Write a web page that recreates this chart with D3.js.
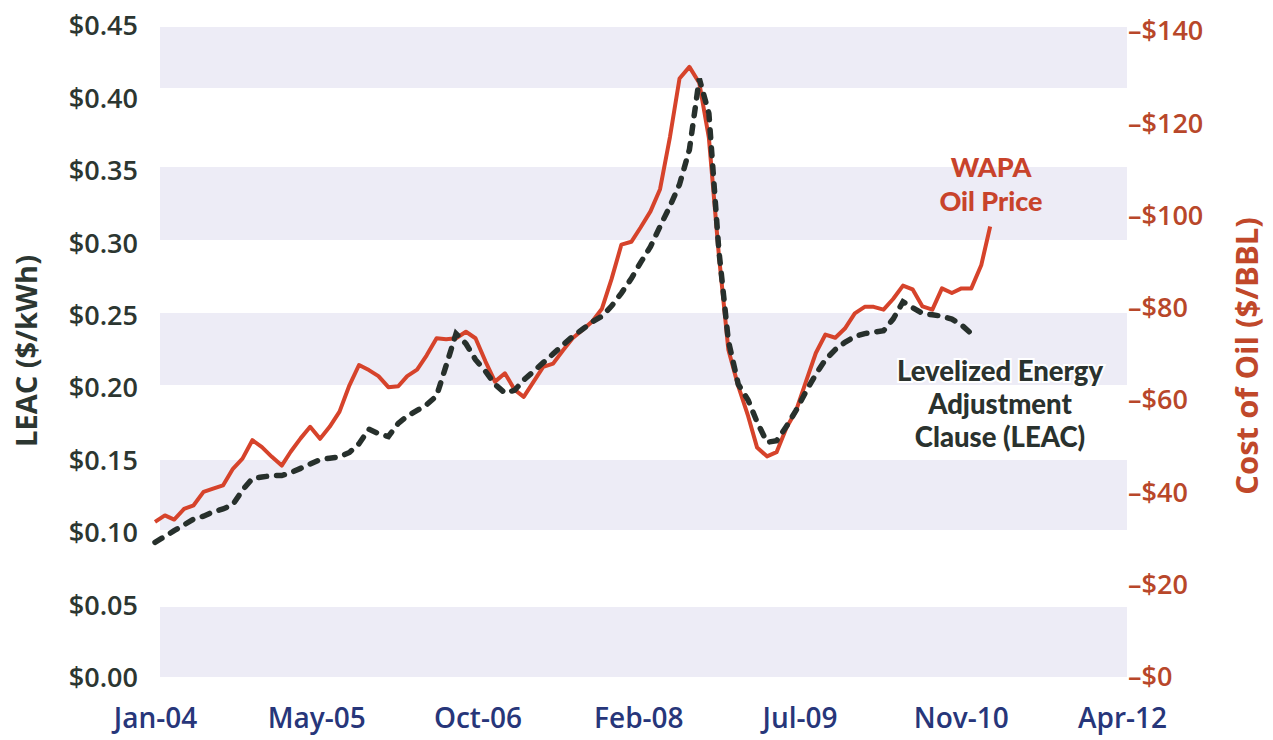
<!doctype html>
<html lang="en">
<head>
	<meta charset="utf-8">
	<title>LEAC vs WAPA Oil Price</title>
	<script src="https://cdn.jsdelivr.net/npm/d3@7"></script>
	<style>
		body { margin: 0; background: #fff; }
		text { font-family: 'Open Sans', sans-serif; }
		.axis path { display: none; }
		.note { font-family: Lato, 'Open Sans', sans-serif; }
	</style>
</head>
<body>
	<div id="chart"></div>
	<script>
		// monthly series, first month Jan-04
		let firstMonth = '2004-01-01'

		// WAPA oil price, $/BBL
		let oilPrice = [
			33.4, 34.8, 33.9, 36.2, 37.0, 39.9, 40.6, 41.3, 44.9, 47.1,
			51.1, 49.6, 47.5, 45.6, 48.6, 51.5, 54.0, 51.4, 54.0, 57.3,
			63.0, 67.4, 66.3, 65.0, 62.6, 62.8, 65.0, 66.4, 69.5, 73.2,
			73.0, 73.2, 74.6, 73.2, 68.2, 63.8, 65.6, 62.0, 60.5, 63.8,
			67.0, 67.7, 70.5, 73.2, 75.0, 76.8, 79.6, 86.0, 93.5, 94.1,
			97.2, 100.7, 105.5, 116.8, 129.5, 132.0, 128.5, 116.6, 91.4, 70.7,
			62.8, 56.3, 49.5, 47.6, 48.5, 53.8, 57.5, 63.8, 70.0, 74.0,
			73.3, 75.3, 78.6, 80.0, 80.0, 79.4, 81.7, 84.6, 83.8, 80.1,
			79.4, 84.0, 83.0, 84.0, 84.0, 89.0, 97.4
		]

		// LEAC, $/kWh
		let leac = [
			0.093, 0.097, 0.101, 0.105, 0.109, 0.111, 0.114, 0.116, 0.119, 0.129,
			0.137, 0.138, 0.139, 0.139, 0.141, 0.144, 0.147, 0.150, 0.151, 0.152,
			0.155, 0.161, 0.171, 0.168, 0.166, 0.175, 0.180, 0.184, 0.188, 0.194,
			0.215, 0.237, 0.230, 0.219, 0.211, 0.202, 0.196, 0.198, 0.205, 0.211,
			0.217, 0.223, 0.229, 0.235, 0.240, 0.245, 0.249, 0.256, 0.265, 0.275,
			0.286, 0.297, 0.311, 0.325, 0.340, 0.364, 0.413, 0.389, 0.295, 0.232,
			0.202, 0.191, 0.176, 0.162, 0.163, 0.173, 0.184, 0.197, 0.209, 0.219,
			0.226, 0.231, 0.235, 0.237, 0.238, 0.239, 0.247, 0.259, 0.255, 0.251,
			0.250, 0.249, 0.247, 0.243, 0.237
		]

		let xTickDates = ['2004-01-01', '2005-05-20', '2006-10-07', '2008-02-23', '2009-07-12', '2010-11-29', '2012-04-17']
		let xTickLabels = ['Jan-04', 'May-05', 'Oct-06', 'Feb-08', 'Jul-09', 'Nov-10', 'Apr-12']
		let leacTicks = [0, 0.05, 0.10, 0.15, 0.20, 0.25, 0.30, 0.35, 0.40, 0.45]
		let oilTicks = [0, 20, 40, 60, 80, 100, 120, 140]

		let width = 1273
		let height = 740
		let parse = d3.timeParse('%Y-%m-%d')
		let start = parse(firstMonth)

		let x = d3.scaleTime()
			.domain([parse(xTickDates[0]), parse(xTickDates[xTickDates.length - 1])])
			.range([155, 1122])
		let yLeft = d3.scaleLinear().domain([0, 0.45]).range([677, 25])
		let yRight = d3.scaleLinear().domain([0, 140]).range([676, 30])

		let svg = d3.select('#chart')
			.append('svg')
			.attr('width', width)
			.attr('height', height)

		// faint lavender bands from the scanned page behind the chart
		let bands = [[27, 88], [167, 240], [313, 385], [460, 530], [607, 677]]
		svg.append('g')
			.selectAll('rect')
			.data(bands)
			.enter().append('rect')
				.attr('x', 160)
				.attr('width', 967)
				.attr('y', d => d[0])
				.attr('height', d => d[1] - d[0])
				.attr('fill', '#edecf6')

		// axes
		let xAxis = svg.append('g')
			.attr('class', 'axis')
			.call(d3.axisBottom(x)
				.tickValues(xTickDates.map(parse))
				.tickFormat((d, i) => xTickLabels[i])
				.tickSize(0))
		xAxis.selectAll('text')
			.attr('y', 728)
			.attr('dy', 0)
			.style('font-size', '28px')
			.style('font-weight', 600)
			.attr('fill', '#27367a')

		let leftAxis = svg.append('g')
			.attr('class', 'axis')
			.attr('transform', 'translate(138,0)')
			.call(d3.axisLeft(yLeft)
				.tickValues(leacTicks)
				.tickFormat(d => '$' + d3.format('.2f')(d))
				.tickSize(0)
				.tickPadding(0))
		leftAxis.selectAll('text')
			.attr('dy', '0.36em')
			.style('font-size', '27px')
			.style('font-weight', 600)
			.attr('fill', '#2c3631')

		let rightAxis = svg.append('g')
			.attr('class', 'axis')
			.attr('transform', 'translate(1128,0)')
			.call(d3.axisRight(yRight)
				.tickValues(oilTicks)
				.tickFormat(d => '\u2013$' + d)
				.tickSize(0)
				.tickPadding(0))
		rightAxis.selectAll('text')
			.attr('dy', '0.36em')
			.style('font-size', '27px')
			.style('font-weight', 600)
			.attr('fill', '#b8472a')

		// axis titles
		svg.append('text')
			.attr('transform', 'translate(37,351) rotate(-90)')
			.attr('text-anchor', 'middle')
			.style('font-size', '29px')
			.style('font-weight', 700)
			.attr('fill', '#2c3631')
			.text('LEAC ($/kWh)')

		svg.append('text')
			.attr('transform', 'translate(1258,356) rotate(-90)')
			.attr('text-anchor', 'middle')
			.style('font-size', '31px')
			.style('font-weight', 700)
			.attr('fill', '#c0482a')
			.text('Cost of Oil ($/BBL)')

		// series
		let oilData = oilPrice.map((v, i) => ({date: d3.timeMonth.offset(start, i), v: v}))
		let leacData = leac.map((v, i) => ({date: d3.timeMonth.offset(start, i), v: v}))

		svg.append('path')
			.datum(oilData)
			.attr('fill', 'none')
			.attr('stroke', '#d6432b')
			.attr('stroke-width', 4)
			.attr('stroke-linejoin', 'round')
			.attr('d', d3.line().x(d => x(d.date)).y(d => yRight(d.v)))

		svg.append('path')
			.datum(leacData)
			.attr('fill', 'none')
			.attr('stroke', '#27302c')
			.attr('stroke-width', 5.5)
			.attr('stroke-linecap', 'round')
			.attr('stroke-dasharray', '8,10')
			.attr('d', d3.line().x(d => x(d.date)).y(d => yLeft(d.v)))

		// annotations, one text per line
		let wapaLines = ['WAPA', 'Oil Price']
		svg.append('g')
			.selectAll('text')
			.data(wapaLines)
			.enter().append('text')
				.attr('class', 'note')
				.attr('x', 991)
				.attr('y', (d, i) => 177 + i * 34)
				.attr('text-anchor', 'middle')
				.style('font-size', '27px')
				.style('font-weight', 900)
				.attr('fill', '#c8432b')
				.text(d => d)

		let leacLines = ['Levelized Energy', 'Adjustment', 'Clause (LEAC)']
		svg.append('g')
			.selectAll('text')
			.data(leacLines)
			.enter().append('text')
				.attr('class', 'note')
				.attr('x', 1000)
				.attr('y', (d, i) => 381 + i * 33)
				.attr('text-anchor', 'middle')
				.style('font-size', '27.5px')
				.style('font-weight', 900)
				.attr('fill', '#2a322e')
				.attr('stroke', '#fff')
				.attr('stroke-width', 4)
				.attr('paint-order', 'stroke')
				.text(d => d)
	</script>
</body>
</html>
